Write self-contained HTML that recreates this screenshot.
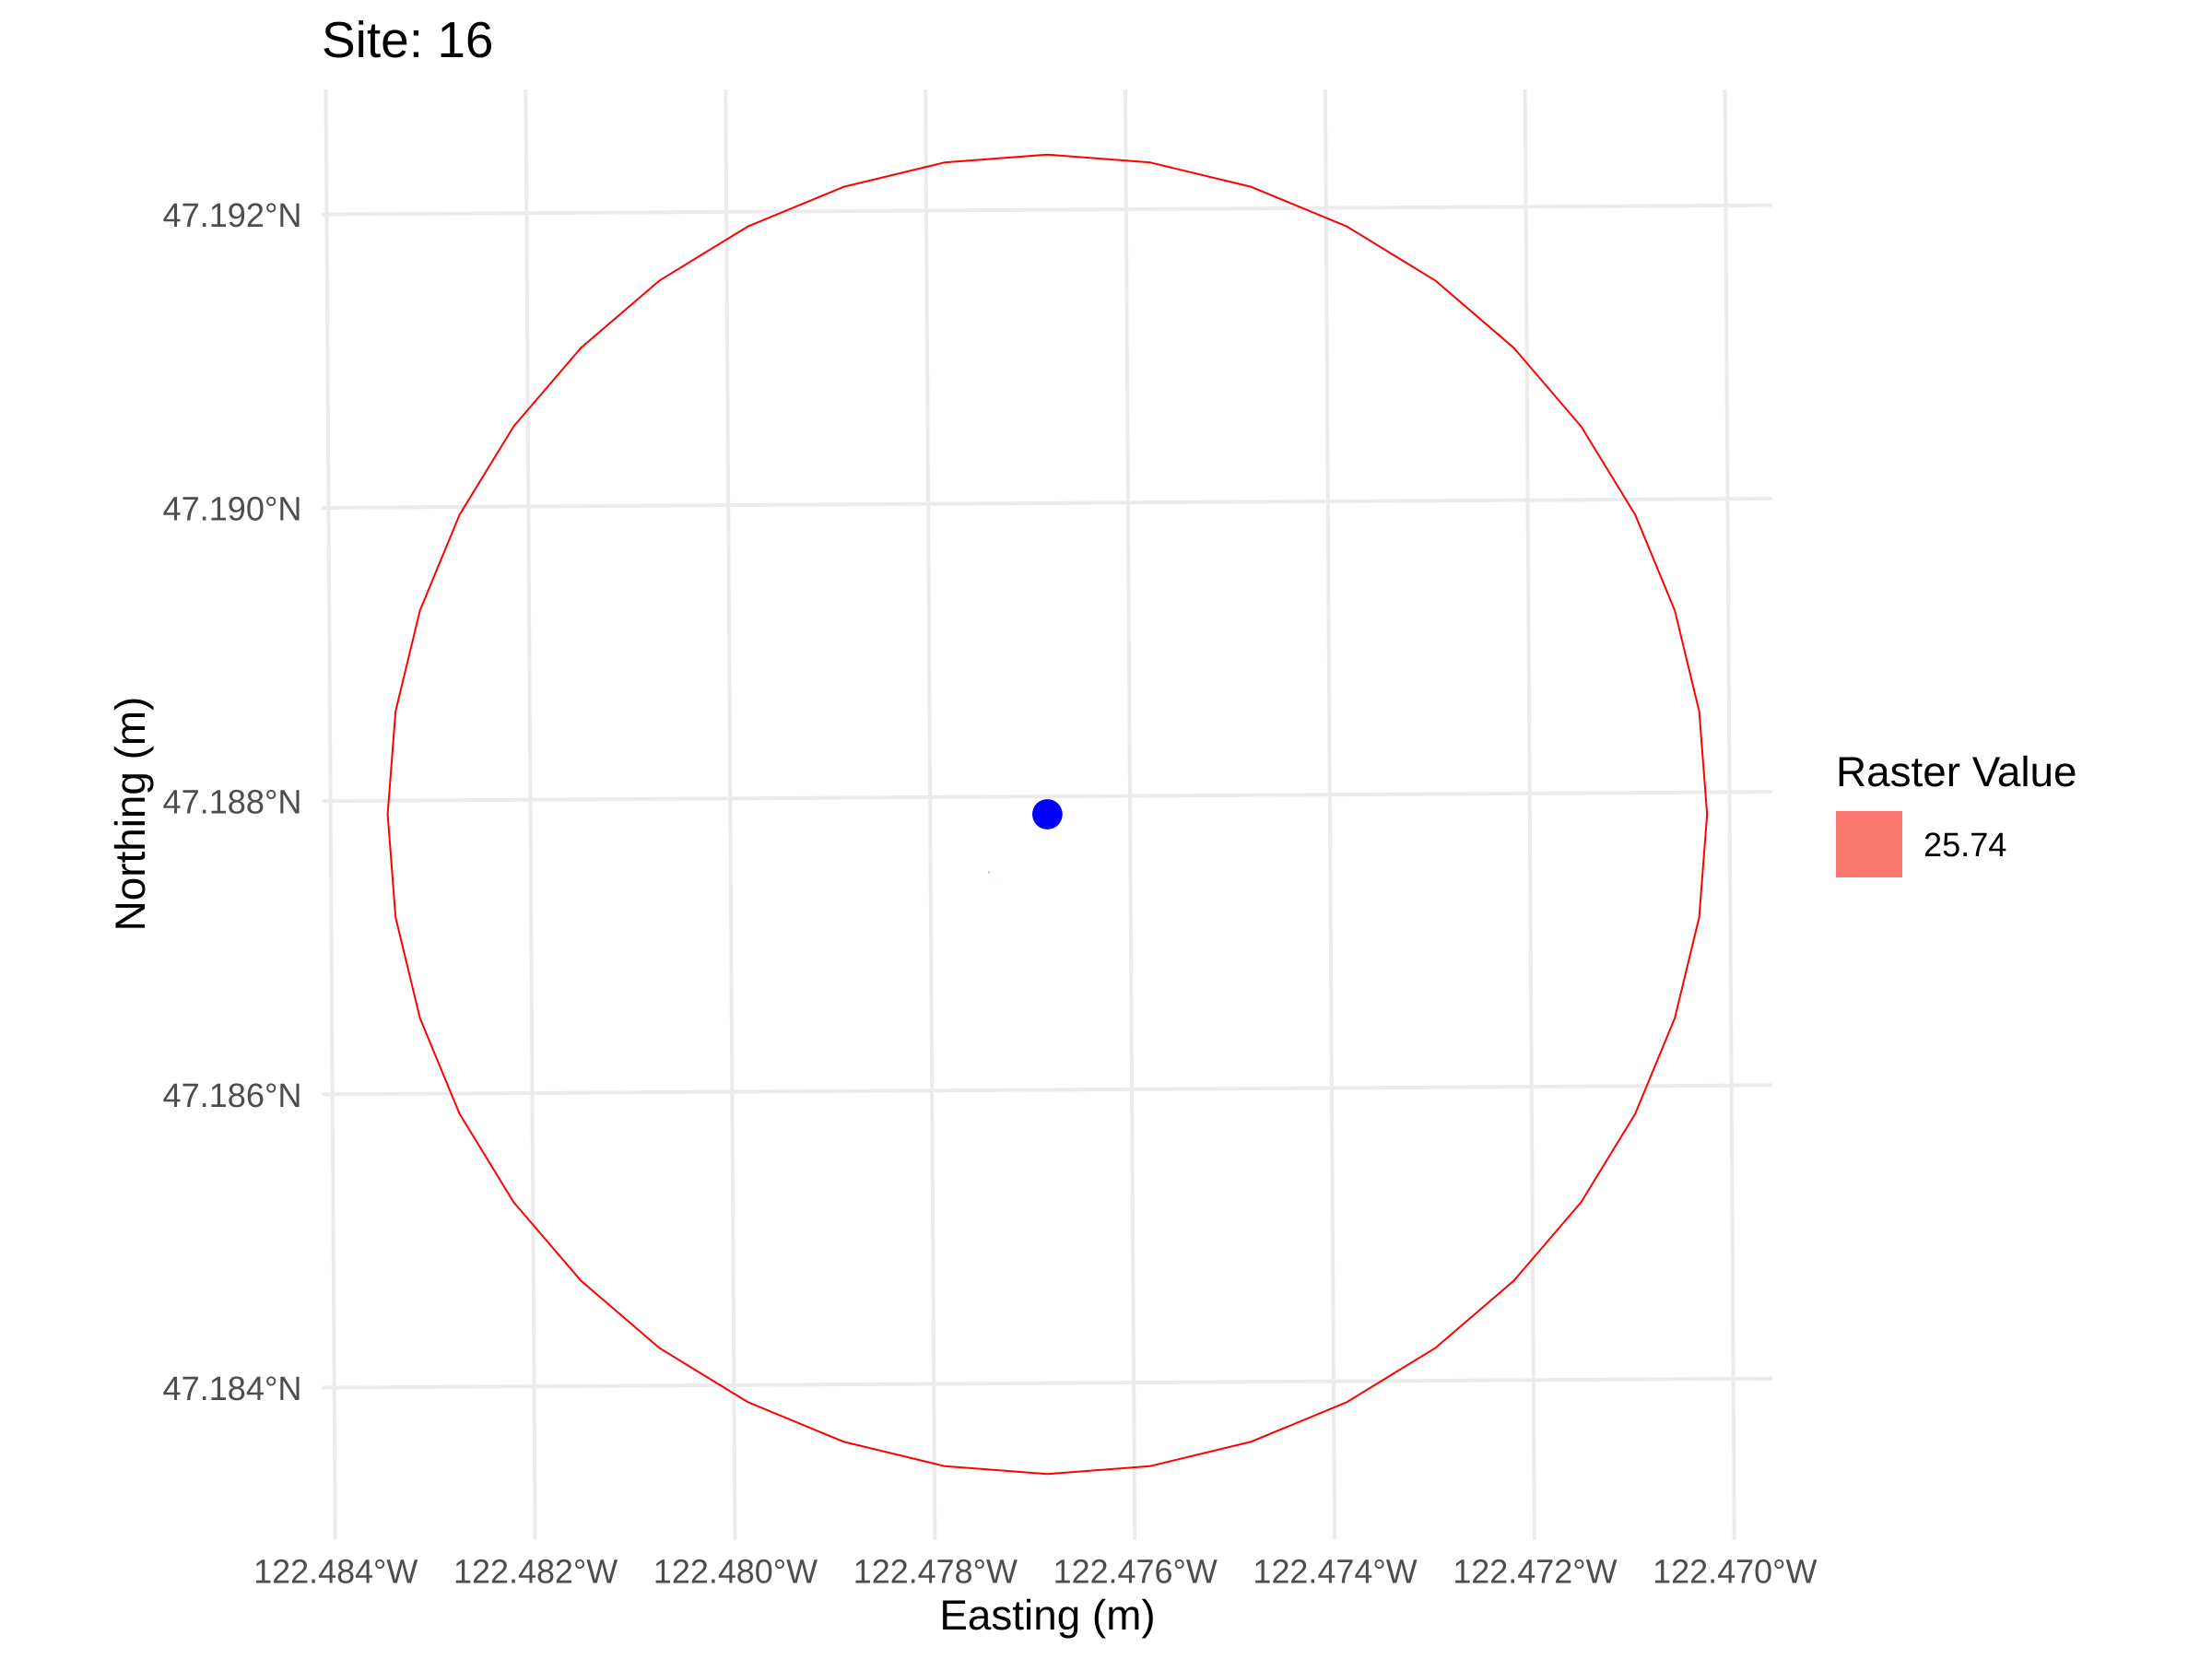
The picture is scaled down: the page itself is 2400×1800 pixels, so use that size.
<!DOCTYPE html>
<html lang="en">
<head>
<meta charset="utf-8">
<title>Site: 16</title>
<style>
html,body{margin:0;padding:0;background:#fff;width:2400px;height:1800px;overflow:hidden}
svg{display:block}
text{font-family:"Liberation Sans",Arial,sans-serif;text-rendering:geometricPrecision}
</style>
</head>
<body>
<svg id="chart" xmlns="http://www.w3.org/2000/svg" width="2400" height="1800" viewBox="0 0 2400 1800">
  <rect x="0" y="0" width="2400" height="1800" fill="#ffffff"/>
  <text x="349" y="62" font-size="55" fill="#000000">Site: 16</text>
  <g id="grid"></g>
  <g id="marks"></g>
  <g id="ticks"></g>
  <text x="1136.5" y="1768" font-size="45.83" fill="#000000" text-anchor="middle">Easting (m)</text>
  <text transform="translate(157 883) rotate(-90)" font-size="45.83" fill="#000000" text-anchor="middle">Northing (m)</text>
  <g>
    <text x="1992" y="853" font-size="45.83" fill="#000000">Raster Value</text>
    <rect x="1992" y="880" width="72" height="72" fill="#FB7871"/>
    <text x="2087" y="929" font-size="36.67" fill="#000000" textLength="90.4" lengthAdjust="spacingAndGlyphs">25.74</text>
  </g>
</svg>
<script>
const lonTicks = [-122.484, -122.482, -122.480, -122.478, -122.476, -122.474, -122.472, -122.470];
const lonLabels = ["122.484°W", "122.482°W", "122.480°W", "122.478°W", "122.476°W", "122.474°W", "122.472°W", "122.470°W"];
const latTicks = [47.184, 47.186, 47.188, 47.190, 47.192];
const latLabels = ["47.184°N", "47.186°N", "47.188°N", "47.190°N", "47.192°N"];
// Buffer outline vertices, metres east / north of the site, clockwise from the top
const bufferEast = [0, 78, 154.5, 227, 294, 353.5, 404.5, 445.5, 475.5, 494, 500, 494, 475.5, 445.5, 404.5, 353.5, 294, 227, 154.5, 78, 0, -78, -154.5, -227, -294, -353.5, -404.5, -445.5, -475.5, -494, -500, -494, -475.5, -445.5, -404.5, -353.5, -294, -227, -154.5, -78];
const bufferNorth = [500, 494, 475.5, 445.5, 404.5, 353.5, 294, 227, 154.5, 78, 0, -78, -154.5, -227, -294, -353.5, -404.5, -445.5, -475.5, -494, -500, -494, -475.5, -445.5, -404.5, -353.5, -294, -227, -154.5, -78, 0, 78, 154.5, 227, 294, 353.5, 404.5, 445.5, 475.5, 494];
const sitePoint = [0, 0];
const rasterCell = [-44.5, -44];
const rasterValue = [25.74];

const SVG_NS = "http://www.w3.org/2000/svg";
const panel = {left: 349, right: 1923, top: 97, bottom: 1670.7};

// Planar axis functions (metres from the site -> page pixels)
function xMetres(e) { return 1136.4 + e * 1.4316; }
function yMetres(n) { return 883.5 - n * 1.4316; }

// Graticule axis function (lon/lat -> page pixels), slightly rotated against the panel
function project(lon, lat) {
  const dLon = lon + 122.484;
  const dLat = lat - 47.184;
  return {
    x: 362.7 + dLon * 108425 - dLat * 1031,
    y: 1505.6 - dLat * 159125 - dLon * 688.5
  };
}
// Where a meridian meets a horizontal panel edge
function lonAtY(lon, edgeY) {
  let lat = 47.188;
  for (let i = 0; i < 4; i++) {
    lat += (project(lon, lat).y - edgeY) / 159125;
  }
  return project(lon, lat);
}
// Where a parallel meets a vertical panel edge
function latAtX(lat, edgeX) {
  let lon = -122.477;
  for (let i = 0; i < 4; i++) {
    lon += (edgeX - project(lon, lat).x) / 108425;
  }
  return project(lon, lat);
}

const gridLayer = document.getElementById("grid");
const marksLayer = document.getElementById("marks");
const ticksLayer = document.getElementById("ticks");

function makeLine(a, b) {
  const line = document.createElementNS(SVG_NS, "line");
  line.setAttribute("x1", a.x);
  line.setAttribute("y1", a.y);
  line.setAttribute("x2", b.x);
  line.setAttribute("y2", b.y);
  line.setAttribute("stroke", "#EBEBEB");
  line.setAttribute("stroke-width", "4");
  return line;
}

latTicks.forEach(function (lat, i) {
  const anchor = latAtX(lat, panel.left);
  const line = makeLine(anchor, latAtX(lat, panel.right));
  
  
  gridLayer.appendChild(line);

  const label = document.createElementNS(SVG_NS, "text");
  
  
  label.setAttribute("x", 327.5);
  label.setAttribute("y", anchor.y + 13.5);
  label.setAttribute("font-size", "36.67");
  label.setAttribute("fill", "#4D4D4D");
  label.setAttribute("text-anchor", "end");
  label.setAttribute("textLength", "151");
  label.setAttribute("lengthAdjust", "spacingAndGlyphs");
  label.textContent = latLabels[i];
  ticksLayer.appendChild(label);
});

lonTicks.forEach(function (lon, i) {
  const anchor = lonAtY(lon, panel.bottom);
  const line = makeLine(lonAtY(lon, panel.top), anchor);
  
  
  gridLayer.appendChild(line);

  const label = document.createElementNS(SVG_NS, "text");
  
  
  label.setAttribute("x", anchor.x + 0.5);
  label.setAttribute("y", 1717.5);
  label.setAttribute("font-size", "36.67");
  label.setAttribute("fill", "#4D4D4D");
  label.setAttribute("text-anchor", "middle");
  label.setAttribute("textLength", "178.2");
  label.setAttribute("lengthAdjust", "spacingAndGlyphs");
  label.textContent = lonLabels[i];
  ticksLayer.appendChild(label);
});

const outline = document.createElementNS(SVG_NS, "polygon");


outline.setAttribute("points", bufferEast.map(function (e, i) {
  return xMetres(e).toFixed(2) + "," + yMetres(bufferNorth[i]).toFixed(2);
}).join(" "));
outline.setAttribute("fill", "none");
outline.setAttribute("stroke", "#FF0000");
outline.setAttribute("stroke-width", "2");
outline.setAttribute("stroke-linejoin", "round");
marksLayer.appendChild(outline);

const cell = document.createElementNS(SVG_NS, "rect");


cell.setAttribute("x", xMetres(rasterCell[0]) - 0.75);
cell.setAttribute("y", yMetres(rasterCell[1]) - 0.75);
cell.setAttribute("width", 1.5);
cell.setAttribute("height", 1.5);
cell.setAttribute("fill", "#F8766D");
marksLayer.appendChild(cell);

const site = document.createElementNS(SVG_NS, "circle");


site.setAttribute("cx", xMetres(sitePoint[0]));
site.setAttribute("cy", yMetres(sitePoint[1]));
site.setAttribute("r", 16.4);
site.setAttribute("fill", "#0000FF");
marksLayer.appendChild(site);
</script>
</body>
</html>
